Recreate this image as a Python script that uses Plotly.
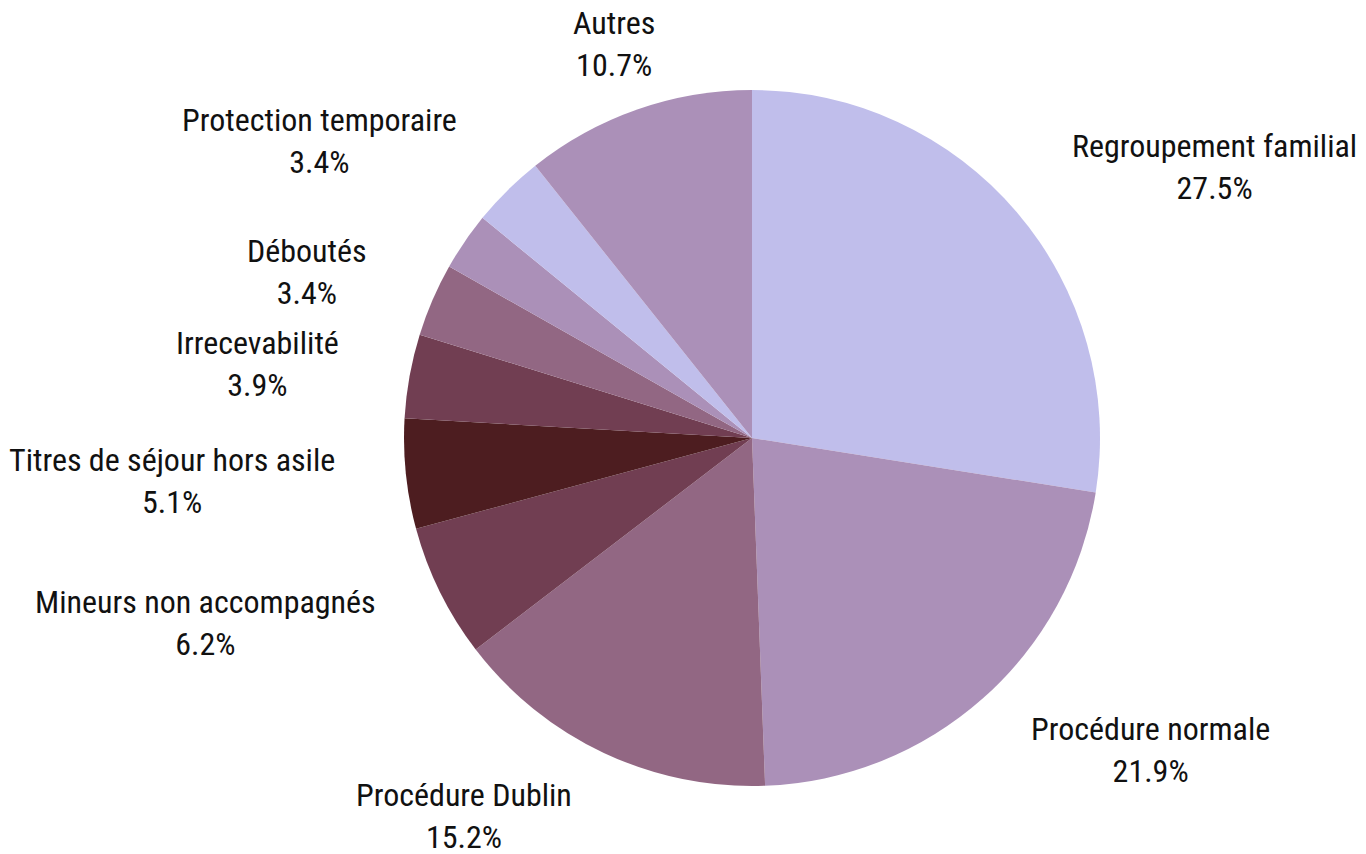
import math
import plotly.graph_objects as go

categories = ["Regroupement familial", "Procédure normale", "Procédure Dublin",
              "Mineurs non accompagnés", "Titres de séjour hors asile", "Irrecevabilité",
              "Déboutés", " ", "Protection temporaire", "Autres"]
values = [27.5, 21.9, 15.2, 6.2, 5.1, 3.9, 3.4, 2.7, 3.4, 10.7]
show_label = [True, True, True, True, True, True, True, False, True, True]
colors = ["#C0BEEB", "#AB90B8", "#926783", "#713E52", "#4D1D20",
          "#713E52", "#926783", "#AB90B8", "#C0BEEB", "#AB90B8"]

W, H = 1366, 854
# pie centre / radius in figure pixels
cx, cy, r = 752, 438, 348
label_dist = 1.2
font = dict(family="Roboto Condensed, Liberation Sans Narrow, Roboto", size=32, color="#111111")

total = sum(values)

fig = go.Figure(go.Pie(
    labels=categories,
    values=values,
    textinfo="none",
    sort=False,
    direction="clockwise",
    rotation=0,
    marker=dict(colors=colors, line=dict(width=0)),
    automargin=False,
    showlegend=False,
    hovertemplate="%{label}: %{percent:.1%}<extra></extra>",
    domain=dict(x=[(cx - r) / W, (cx + r) / W], y=[(H - cy - r) / H, (H - cy + r) / H]),
))

# labels placed outside each slice at label_dist * radius, along the slice mid-angle
cum = 0.0
for cat, v, show in zip(categories, values, show_label):
    mid = 2 * math.pi * (cum + v / 2) / total
    cum += v
    if not show:
        continue
    vx, vy = math.sin(mid), -math.cos(mid)
    px = cx + label_dist * r * vx
    py = cy + label_dist * r * vy
    if abs(vx) < 0.38:
        xanchor = "center"
    elif vx > 0:
        xanchor = "left"
    else:
        xanchor = "right"
    fig.add_annotation(
        x=px / W, y=1 - py / H, xref="paper", yref="paper",
        text=f"{cat}<br>{v / total * 100:.1f}%",
        showarrow=False, xanchor=xanchor, yanchor="middle", align="center",
        font=font,
    )

fig.update_layout(
    width=W, height=H,
    margin=dict(l=0, r=0, t=0, b=0),
    paper_bgcolor="white",
    plot_bgcolor="white",
    showlegend=False,
)
fig.write_html(
    "out.html",
    config={"displayModeBar": False},
    post_script="document.body.style.margin='0';document.body.style.overflow='hidden';",
)
